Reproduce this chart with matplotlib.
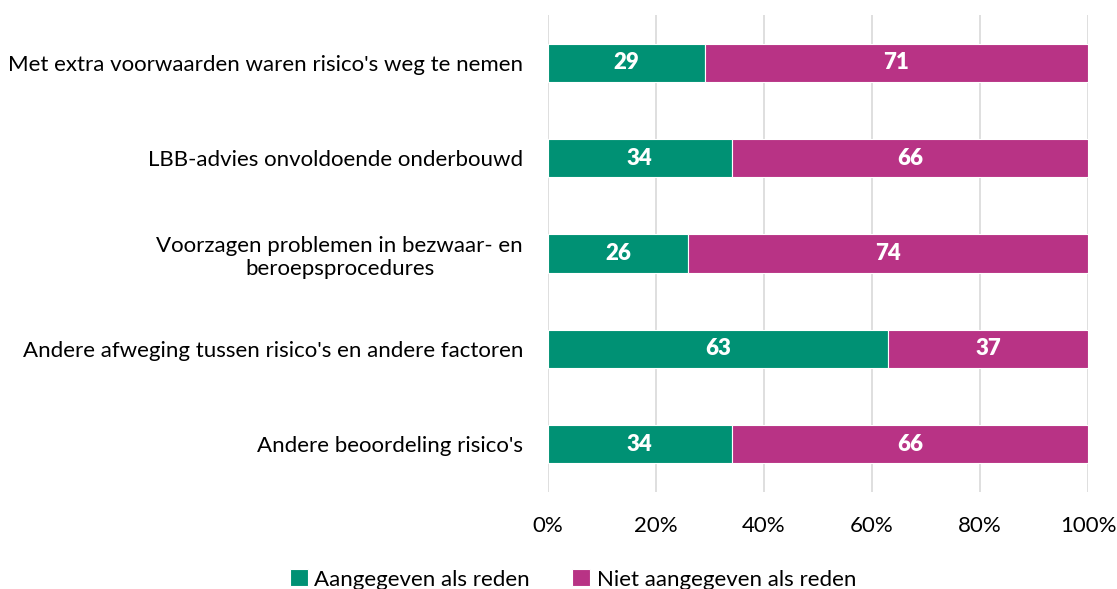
import numpy as np
import matplotlib.pyplot as plt

plt.rcParams['font.family'] = ['Lato', 'DejaVu Sans']

categories = [
    "Met extra voorwaarden waren risico's weg te nemen",
    "LBB-advies onvoldoende onderbouwd",
    "Voorzagen problemen in bezwaar- en\nberoepsprocedures",
    "Andere afweging tussen risico's en andere factoren",
    "Andere beoordeling risico's",
]
aangegeven = [29, 34, 26, 63, 34]
niet_aangegeven = [71, 66, 74, 37, 66]

green = "#009174"
magenta = "#B83385"

fig = plt.figure(figsize=(11.17, 5.89), dpi=100)
ax = fig.add_axes([0.4906, 0.1647, 0.4834, 0.8098])

y = np.arange(len(categories))
b1 = ax.barh(y, aangegeven, height=0.4, color=green, edgecolor="white", linewidth=0.8,
             label="Aangegeven als reden")
b2 = ax.barh(y, niet_aangegeven, left=aangegeven, height=0.4, color=magenta,
             edgecolor="white", linewidth=0.8, label="Niet aangegeven als reden")

for bars in (b1, b2):
    ax.bar_label(bars, label_type="center", color="white", fontsize=16, fontweight="heavy")

ax.set_xlim(0, 100)
ax.set_ylim(len(categories) - 0.5, -0.5)
ax.set_xticks(np.arange(0, 101, 20))
ax.set_xticklabels([f"{v}%" for v in range(0, 101, 20)], fontsize=16)
ax.tick_params(length=0)
ax.set_yticks(y)
ax.set_yticklabels(categories, fontsize=16, multialignment="center")
ax.tick_params(axis="x", pad=17)
ax.tick_params(axis="y", pad=18)
ax.grid(axis="x", color="#d9d9d9", linewidth=1.2)
ax.set_axisbelow(True)
for s in ax.spines.values():
    s.set_visible(False)

fig.legend(handles=[b1, b2], loc="lower center", bbox_to_anchor=(0.513, -0.035), ncol=2,
           frameon=False, fontsize=16, handlelength=0.8, handleheight=0.8,
           handletextpad=0.3, columnspacing=1.9)

fig.savefig("out.png", dpi=100)
